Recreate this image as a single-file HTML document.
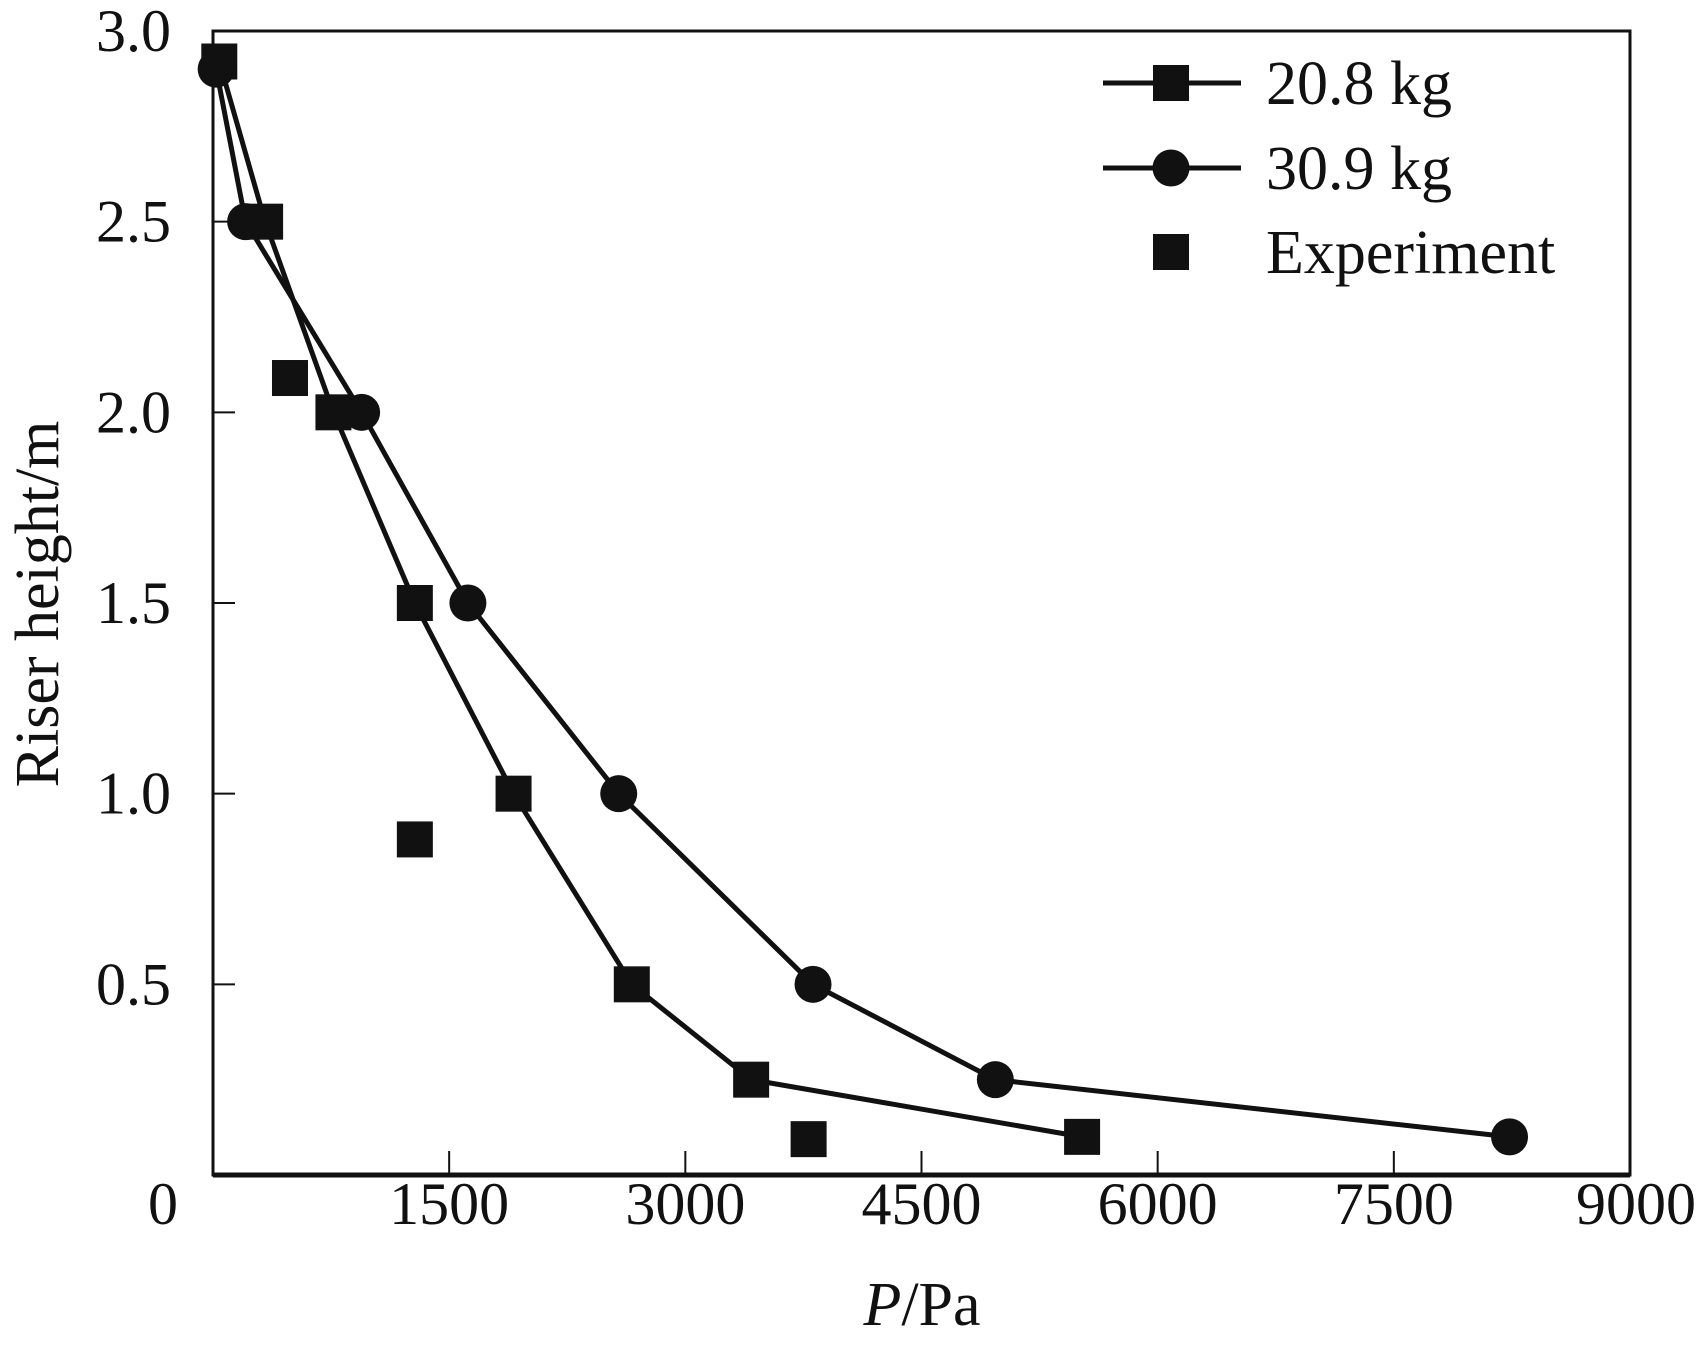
<!DOCTYPE html>
<html><head><meta charset="utf-8"><style>
html,body{margin:0;padding:0;background:#fff;}
svg text{font-family:"Liberation Serif",serif;fill:#111;}
</style></head><body>
<svg id="chart" width="1700" height="1345" xmlns="http://www.w3.org/2000/svg">
<g id="plot"></g>
</svg>
<script>
const xTicks=[1500,3000,4500,6000,7500];
const xTickLabels=["0","1500","3000","4500","6000","7500","9000"];
const xLabelVals=[0,1500,3000,4500,6000,7500,9000];
const yTicks=[0.5,1.0,1.5,2.0,2.5,3.0];
const yTickLabels=["0.5","1.0","1.5","2.0","2.5","3.0"];
const s208x=[40,331,765,1282,1909,2660,3418,5520];
const s208y=[2.92,2.5,2.0,1.5,1.0,0.5,0.25,0.1];
const s309x=[20,207,944,1619,2577,3811,4969,8235];
const s309y=[2.9,2.5,2.0,1.5,1.0,0.5,0.25,0.1];
const expX=[489,1282,3783];
const expY=[2.09,0.88,0.094];

const L=213,R=1630,T=31,B=1175;
const sx=v=>L+(v/9000)*(R-L);
const sy=v=>B-(v/3)*(B-T);
const NS="http://www.w3.org/2000/svg";
const g=document.getElementById('plot');
function mk(tag,attrs,parent){const e=document.createElementNS(NS,tag);for(const k in attrs)e.setAttribute(k,attrs[k]);(parent||g).appendChild(e);return e;}

let e=mk('rect',{x:L,y:T,width:R-L,height:B-T,fill:'none',stroke:'#111','stroke-width':3});


e=mk('line',{x1:L,y1:B,x2:R,y2:B,stroke:'#111','stroke-width':5});



xTicks.forEach(v=>{const t=mk('line',{x1:sx(v),x2:sx(v),y1:B,y2:B-24,stroke:'#111','stroke-width':2});

});
xLabelVals.forEach((v,i)=>{const xx=v===0?163:sx(v)+(v===9000?6:0);const t=mk('text',{x:xx,y:1224,'font-size':60,'text-anchor':'middle'});t.textContent=xTickLabels[i];

});
yTicks.forEach((v,i)=>{if(v<3){const t=mk('line',{x1:L,x2:L+22,y1:sy(v),y2:sy(v),stroke:'#111','stroke-width':2});

}
const l=mk('text',{x:171,y:sy(v)+20,'font-size':60,'text-anchor':'end'});l.textContent=yTickLabels[i];

});

function series(xs,ys,name,marker){
  const p=mk('polyline',{points:xs.map((x,i)=>sx(x)+','+sy(ys[i])).join(' '),fill:'none',stroke:'#111','stroke-width':5});
  
  
  xs.forEach((x,i)=>{const m=marker(sx(x),sy(ys[i]));
  
  });
}
const sq=(x,y)=>mk('rect',{x:x-18,y:y-18,width:36,height:36,fill:'#111'});
const ci=(x,y)=>mk('circle',{cx:x,cy:y,r:18.5,fill:'#111'});
series(s208x,s208y,'series-20-8kg',sq);
series(s309x,s309y,'series-30-9kg',ci);
expX.forEach((x,i)=>{const m=sq(sx(x),sy(expY[i]));

});

const lg=mk('g',{});


[[83,'20.8 kg',sq,true],[168,'30.9 kg',ci,true],[252,'Experiment',sq,false]].forEach(r=>{
  const item=mk('g',{},lg);
  
  
  if(r[3])mk('line',{x1:1103,x2:1241,y1:r[0],y2:r[0],stroke:'#111','stroke-width':5},item);
  const m=r[2](1171,r[0]);item.appendChild(m);
  const t=mk('text',{x:1266,y:r[0]+21,'font-size':62},item);t.textContent=r[1];
});

let t=mk('text',{x:922,y:1325,'font-size':62,'text-anchor':'middle'});
t.innerHTML='<tspan font-style="italic">P</tspan>/Pa';


t=mk('text',{x:0,y:0,'font-size':62,'text-anchor':'middle',transform:'translate(58,604) rotate(-90)'});
t.textContent='Riser height/m';


</script>
</body></html>
